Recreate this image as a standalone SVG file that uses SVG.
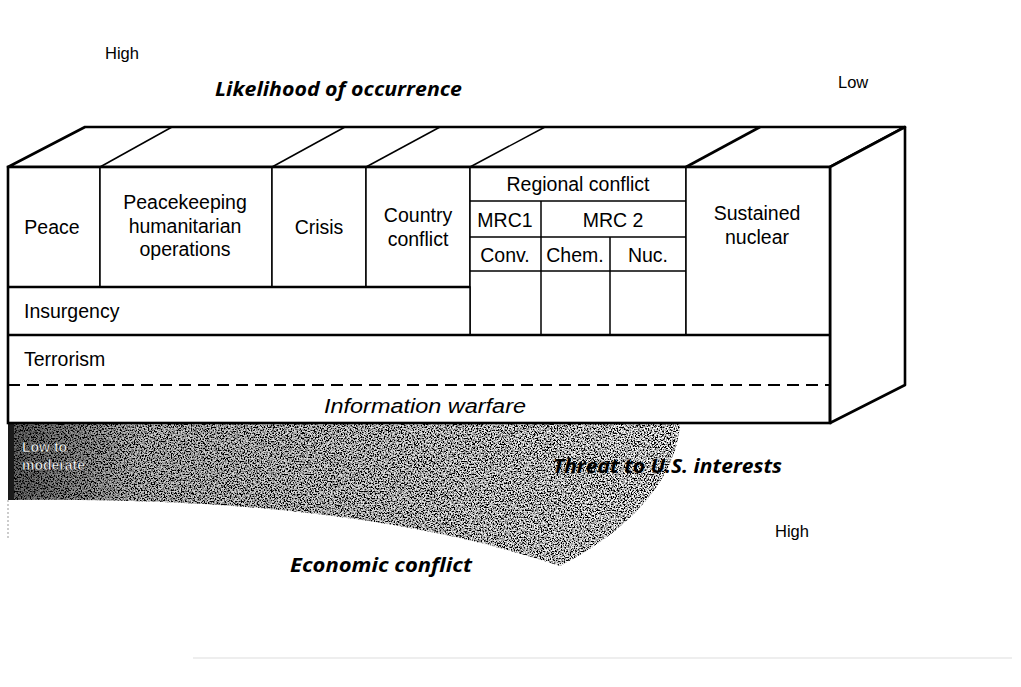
<svg xmlns="http://www.w3.org/2000/svg" width="1021" height="687" viewBox="0 0 1021 687">
<style>
.t{font-family:"Liberation Sans",Arial,sans-serif;font-size:19.5px;fill:#000}
.c{text-anchor:middle}
.bi{font-family:"Open Sans","Noto Sans",sans-serif;font-weight:bold;font-style:italic;font-size:20px;fill:#000}
.s{font-family:"Liberation Sans",Arial,sans-serif;font-size:16.5px;fill:#000}
.thick{fill:none;stroke:#000;stroke-width:2.6}
.thin{fill:none;stroke:#000;stroke-width:1.5}
.cell{fill:#fff;stroke:#000;stroke-width:1.5}
</style>
<defs>
<filter id="grain" filterUnits="userSpaceOnUse" x="0" y="415" width="700" height="160">
<feTurbulence type="fractalNoise" baseFrequency="0.7" numOctaves="2" seed="7" result="n"/>
<feColorMatrix in="n" type="matrix" values="4 0 0 0 -1.55  4 0 0 0 -1.55  4 0 0 0 -1.55  0 0 0 0 1" result="g"/>
<feComposite in="g" in2="SourceGraphic" operator="in"/>
</filter>
<linearGradient id="shade" gradientUnits="userSpaceOnUse" x1="8" y1="0" x2="680" y2="0">
<stop offset="0" stop-color="#000" stop-opacity="0.6"/>
<stop offset="0.2" stop-color="#000" stop-opacity="0.2"/>
<stop offset="1" stop-color="#000" stop-opacity="0"/>
</linearGradient>
</defs>
<rect width="1021" height="687" fill="#fff"/>

<g id="shading">
<path d="M8,423 L680,423 C678,470 640,525 560,566 Q350,495 8,500 Z" fill="#888" filter="url(#grain)"/>
<path d="M8,423 L680,423 C678,470 640,525 560,566 Q350,495 8,500 Z" fill="url(#shade)"/>
<rect x="8" y="423" width="6" height="77" fill="#1a1a1a"/>
<line x1="8" y1="500" x2="8" y2="540" stroke="#999" stroke-width="1" stroke-dasharray="2 2"/>
<text x="22" y="452" font-family="Liberation Sans, Arial, sans-serif" font-weight="bold" font-size="14" fill="#fff" stroke="#111" stroke-width="0.5">Low to</text>
<text x="22" y="470" font-family="Liberation Sans, Arial, sans-serif" font-weight="bold" font-size="14" fill="#fff" stroke="#111" stroke-width="0.5">moderate</text>
</g>

<g id="box-faces">
<polygon points="8,167 85,127 905,127 830,167" fill="#fff" stroke="#000" stroke-width="2.6" stroke-linejoin="round"/>
<polygon points="830,167 905,127 905,385 830,423" fill="#fff" stroke="#000" stroke-width="2.6" stroke-linejoin="round"/>
</g>

<g id="connectors">
<line class="thin" x1="100" y1="167" x2="172" y2="127"/>
<line class="thin" x1="272" y1="167" x2="345" y2="127"/>
<line class="thin" x1="366" y1="167" x2="440" y2="127"/>
<line class="thin" x1="470" y1="167" x2="545" y2="127"/>
<line class="thick" x1="686" y1="167" x2="760" y2="127"/>
</g>

<g id="node-peace"><rect class="cell" x="8" y="167" width="92" height="120"/><text class="t c" x="52" y="234">Peace</text></g>
<g id="node-peacekeeping"><rect class="cell" x="100" y="167" width="172" height="120"/>
<text class="t c" x="185" y="209">Peacekeeping</text><text class="t c" x="185" y="233">humanitarian</text><text class="t c" x="185" y="256">operations</text></g>
<g id="node-crisis"><rect class="cell" x="272" y="167" width="94" height="120"/><text class="t c" x="319" y="234">Crisis</text></g>
<g id="node-country"><rect class="cell" x="366" y="167" width="104" height="120"/><text class="t c" x="418" y="222">Country</text><text class="t c" x="418" y="246">conflict</text></g>

<g id="node-regional">
<rect class="cell" x="470" y="167" width="216" height="168"/>
<line class="thin" x1="470" y1="201" x2="686" y2="201"/>
<line class="thin" x1="470" y1="237" x2="686" y2="237"/>
<line class="thin" x1="470" y1="271" x2="686" y2="271"/>
<line class="thin" x1="541" y1="201" x2="541" y2="335"/>
<line class="thin" x1="610" y1="237" x2="610" y2="335"/>
<text class="t c" x="578" y="191">Regional conflict</text>
<text class="t c" x="505" y="227">MRC1</text>
<text class="t c" x="613" y="227">MRC 2</text>
<text class="t c" x="505" y="262">Conv.</text>
<text class="t c" x="575" y="262">Chem.</text>
<text class="t c" x="648" y="262">Nuc.</text>
</g>

<g id="node-sustained"><rect class="cell" x="686" y="167" width="144" height="168" stroke-width="2.2"/><text class="t c" x="757" y="220">Sustained</text><text class="t c" x="757" y="244">nuclear</text></g>

<g id="node-insurgency"><rect class="cell" x="8" y="287" width="462" height="48"/><text class="t" x="24" y="318">Insurgency</text></g>
<g id="node-terrorism"><rect x="8" y="335" width="822" height="50" fill="#fff"/><text class="t" x="24" y="366">Terrorism</text></g>
<g id="node-information"><text class="t" x="324" y="413" font-style="italic" textLength="202" lengthAdjust="spacingAndGlyphs">Information warfare</text></g>

<g id="outlines">
<line x1="8" y1="385" x2="830" y2="385" stroke="#000" stroke-width="2" stroke-dasharray="12 7"/>
<line class="thick" x1="8" y1="287" x2="470" y2="287"/>
<line class="thick" x1="8" y1="335" x2="830" y2="335"/>
<rect class="thick" x="8" y="167" width="822" height="256"/>
</g>

<g id="labels">
<text class="s" x="105" y="59">High</text>
<text class="bi" x="215" y="96" textLength="247" lengthAdjust="spacingAndGlyphs">Likelihood of occurrence</text>
<text class="s" x="838" y="88">Low</text>
<text class="bi" x="553" y="473" textLength="229" lengthAdjust="spacingAndGlyphs">Threat to U.S. interests</text>
<text class="s" x="775" y="537">High</text>
<text class="bi" x="290" y="572" textLength="182" lengthAdjust="spacingAndGlyphs">Economic conflict</text>
</g>
<line x1="193" y1="658" x2="1012" y2="658" stroke="#ddd" stroke-width="1"/>
</svg>
